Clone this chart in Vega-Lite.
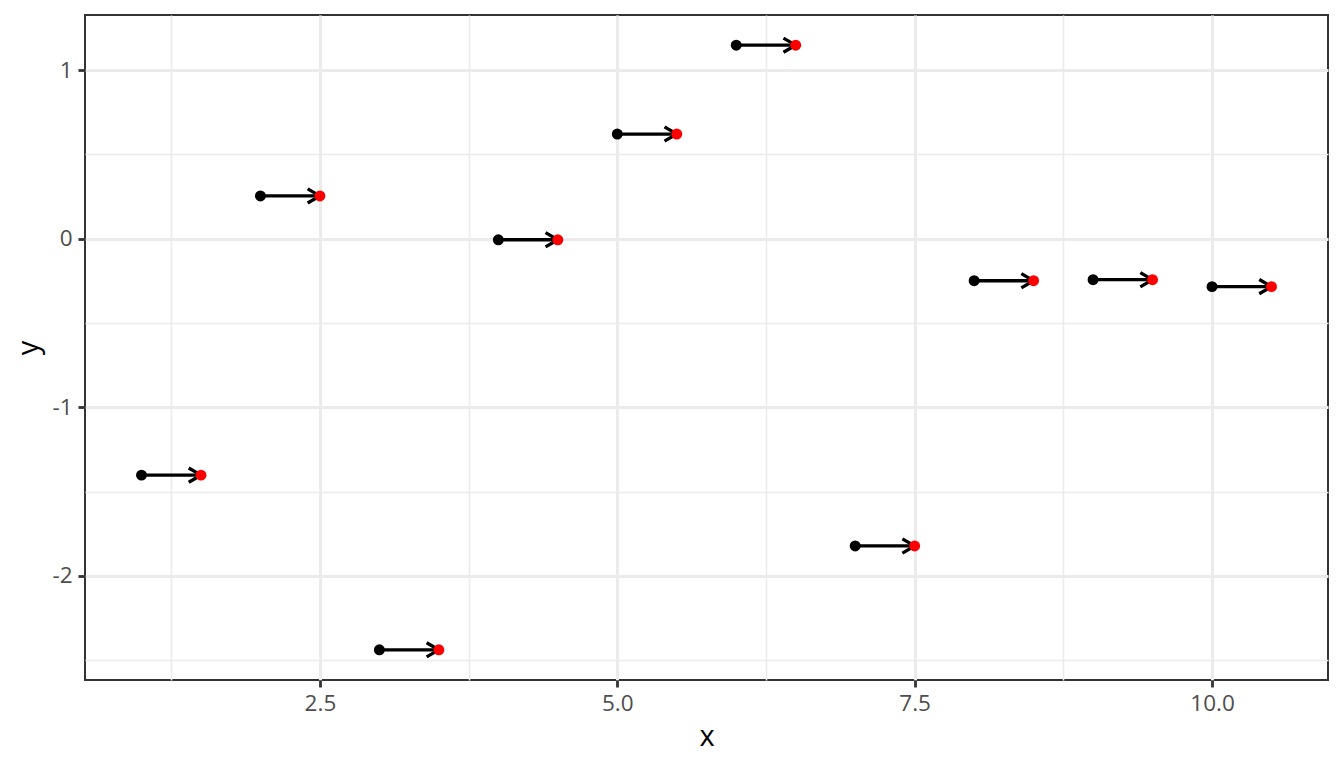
{
  "$schema": "https://vega.github.io/schema/vega-lite/v6.json",
  "autosize": {"type": "none"},
  "padding": {"left": 85, "top": 15, "right": 16, "bottom": 88},
  "width": 1243,
  "height": 665,
  "background": "white",
  "data": {
    "values": [
      {"x": 1, "xend": 1.5, "y": -1.402},
      {"x": 2, "xend": 2.5, "y": 0.254},
      {"x": 3, "xend": 3.5, "y": -2.438},
      {"x": 4, "xend": 4.5, "y": -0.006},
      {"x": 5, "xend": 5.5, "y": 0.621},
      {"x": 6, "xend": 6.5, "y": 1.148},
      {"x": 7, "xend": 7.5, "y": -1.822},
      {"x": 8, "xend": 8.5, "y": -0.249},
      {"x": 9, "xend": 9.5, "y": -0.243},
      {"x": 10, "xend": 10.5, "y": -0.284}
    ]
  },
  "config": {
    "font": "Open Sans",
    "view": {"stroke": "#333333", "strokeWidth": 2},
    "axis": {
      "domain": false,
      "gridColor": "#EBEBEB"
    }
  },
  "resolve": {"axis": {"x": "independent", "y": "independent"}},
  "layer": [
    {
      "mark": {"type": "point", "opacity": 0},
      "encoding": {
        "x": {
          "field": "x", "type": "quantitative",
          "scale": {"domain": [0.525, 10.975], "nice": false, "zero": false},
          "axis": {"orient": "bottom", "values": [1.25, 3.75, 6.25, 8.75], "labels": false, "ticks": false, "domain": false, "title": null, "grid": true, "gridColor": "#EBEBEB", "gridWidth": 1.6}
        },
        "y": {
          "field": "y", "type": "quantitative",
          "scale": {"domain": [-2.617, 1.327], "nice": false, "zero": false},
          "axis": {"orient": "left", "values": [-2.5, -1.5, -0.5, 0.5], "labels": false, "ticks": false, "domain": false, "title": null, "grid": true, "gridColor": "#EBEBEB", "gridWidth": 1.6}
        }
      }
    },
    {
      "mark": {"type": "circle", "color": "#000000", "size": 120, "opacity": 1},
      "encoding": {
        "x": {
          "field": "x", "type": "quantitative",
          "axis": {
            "orient": "bottom", "values": [2.5, 5, 7.5, 10], "format": ".1f",
            "title": "x", "grid": true, "gridColor": "#EBEBEB", "gridWidth": 3, "domain": false,
            "labelFont": "Open Sans", "labelFontSize": 22.5, "labelColor": "#4D4D4D", "labelPadding": 5,
            "tickColor": "#333333", "tickWidth": 2.8, "tickSize": 7,
            "titleFont": "Open Sans", "titleFontSize": 29, "titleFontWeight": "normal", "titleColor": "#000000", "titlePadding": 8
          }
        },
        "y": {
          "field": "y", "type": "quantitative",
          "axis": {
            "orient": "left", "values": [-2, -1, 0, 1],
            "labelExpr": "datum.value < 0 ? '-' + abs(datum.value) : '' + datum.value",
            "title": "y", "grid": true, "gridColor": "#EBEBEB", "gridWidth": 3, "domain": false,
            "labelFont": "Open Sans", "labelFontSize": 22.5, "labelColor": "#4D4D4D", "labelPadding": 6,
            "tickColor": "#333333", "tickWidth": 2.8, "tickSize": 7,
            "titleFont": "Open Sans", "titleFontSize": 29, "titleFontWeight": "normal", "titleColor": "#000000", "titlePadding": 8
          }
        }
      }
    },
    {
      "mark": {"type": "rule", "color": "#000000", "strokeWidth": 3.3},
      "encoding": {
        "x": {"field": "x", "type": "quantitative", "axis": null},
        "x2": {"field": "xend"},
        "y": {"field": "y", "type": "quantitative", "axis": null}
      }
    },
    {
      "mark": {"type": "point", "shape": "M -1 -0.58 L 0 0 L -1 0.58", "filled": false, "stroke": "#000000", "strokeWidth": 3.3, "size": 600, "opacity": 1, "strokeJoin": "miter", "strokeCap": "butt"},
      "encoding": {
        "x": {"field": "xend", "type": "quantitative", "axis": null},
        "y": {"field": "y", "type": "quantitative", "axis": null}
      }
    },
    {
      "mark": {"type": "circle", "color": "#FF0000", "size": 120, "opacity": 1},
      "encoding": {
        "x": {"field": "xend", "type": "quantitative", "axis": null},
        "y": {"field": "y", "type": "quantitative", "axis": null}
      }
    }
  ]
}
